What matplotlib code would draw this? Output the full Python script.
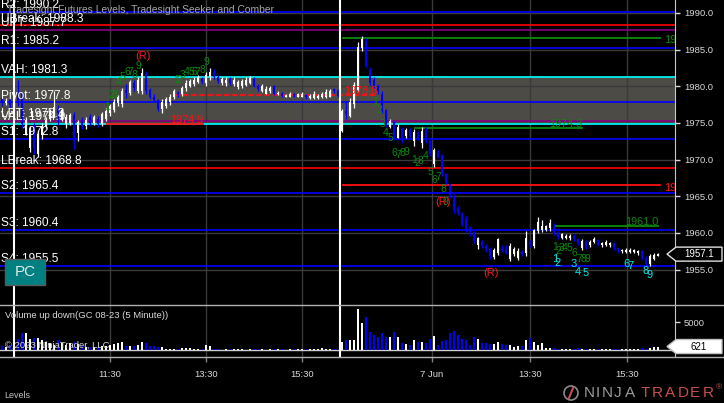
#!/usr/bin/env python3
"""
NinjaTrader style 5 minute GC chart with Tradesight levels, Seeker/Comber counts
and a volume up/down panel.
"""

import numpy as np
import matplotlib.pyplot as plt
from matplotlib.patches import Rectangle, Polygon, Ellipse
from matplotlib.lines import Line2D
from matplotlib.transforms import blended_transform_factory

plt.rcParams['font.family'] = ['Liberation Sans', 'DejaVu Sans']

# ---------------- price bars (5 minute) ----------------
opens = [1978.4, 1977.7, 1978.1, 1977.4, 1978.9, 1979.0, 1974.0, 1971.6, 1974.5, 1970.8,
         1973.3, 1974.6, 1975.6, 1976.2, 1976.9, 1975.6, 1974.9, 1975.0, 1976.1, 1973.6,
         1975.4, 1974.6, 1975.8, 1975.0, 1975.6, 1974.9, 1975.6, 1976.4, 1976.8, 1977.7,
         1977.6, 1979.5, 1979.1, 1980.4, 1979.4, 1979.3, 1981.7, 1979.5, 1978.6, 1978.1,
         1976.9, 1977.3, 1977.8, 1978.5, 1979.1, 1979.0, 1979.7, 1980.1, 1980.3, 1980.6,
         1981.0, 1980.4, 1981.2, 1981.9, 1981.3, 1980.5, 1980.4, 1981.0, 1980.3, 1979.9,
         1980.0, 1980.2, 1980.5, 1981.0, 1980.0, 1979.4, 1979.0, 1979.3, 1980.0, 1978.9,
         1979.0, 1978.6, 1978.6, 1978.9, 1978.6, 1978.6, 1978.8, 1978.4, 1978.4, 1978.4,
         1978.5, 1978.5, 1978.6, 1979.6, 1979.4,
         1973.9, 1976.6, 1975.9, 1977.6, 1979.5, 1985.2, 1986.2, 1982.2, 1980.9, 1980.1,
         1979.0, 1976.7, 1974.5, 1975.1, 1973.0, 1974.3, 1973.2, 1974.0, 1972.5, 1973.6,
         1972.2, 1974.3, 1972.6, 1969.4, 1971.0, 1970.6, 1968.0, 1966.6, 1965.0, 1963.3,
         1962.6, 1962.0, 1960.6, 1960.1, 1958.3, 1958.9, 1958.2, 1957.9, 1956.7, 1957.3,
         1958.0, 1958.0, 1956.5, 1957.1, 1956.6, 1957.4, 1957.2, 1958.8, 1958.2, 1960.2,
         1960.4, 1960.4, 1960.6, 1961.0, 1959.9, 1959.3, 1959.3, 1959.3, 1959.6, 1959.1,
         1957.9, 1958.9, 1958.3, 1958.7, 1959.0, 1958.3, 1958.4, 1958.3, 1958.6, 1957.9,
         1957.5, 1957.4, 1957.4, 1957.4, 1957.2, 1957.5, 1956.6, 1955.8, 1956.5, 1956.9]
highs = [1978.7, 1978.4, 1978.3, 1978.5, 1980.9, 1979.2, 1975.8, 1974.6, 1975.0, 1974.0,
         1975.0, 1975.8, 1976.9, 1979.4, 1977.5, 1977.1, 1976.2, 1976.4, 1976.5, 1975.4,
         1975.8, 1975.8, 1976.2, 1976.1, 1975.9, 1976.5, 1977.0, 1977.6, 1978.2, 1978.8,
         1979.7, 1980.3, 1980.9, 1980.8, 1981.2, 1982.5, 1982.1, 1979.8, 1978.9, 1978.3,
         1978.2, 1978.5, 1978.9, 1979.6, 1979.4, 1980.1, 1980.8, 1981.0, 1981.2, 1981.5,
         1981.3, 1981.9, 1982.5, 1982.3, 1981.6, 1981.3, 1981.2, 1981.2, 1981.3, 1980.9,
         1981.0, 1981.3, 1981.4, 1981.2, 1980.3, 1980.3, 1980.1, 1980.1, 1980.2, 1979.3,
         1979.2, 1979.0, 1979.2, 1979.1, 1979.1, 1979.2, 1979.0, 1978.9, 1979.4, 1978.9,
         1979.2, 1979.6, 1979.6, 1979.7, 1979.6,
         1976.9, 1978.0, 1978.4, 1980.6, 1986.0, 1986.8, 1986.6, 1982.6, 1981.2, 1980.3,
         1979.3, 1976.9, 1975.5, 1975.3, 1974.8, 1974.5, 1974.3, 1974.3, 1974.2, 1973.9,
         1974.5, 1974.5, 1972.7, 1971.6, 1971.3, 1970.8, 1968.2, 1966.8, 1965.3, 1963.6,
         1962.8, 1962.3, 1960.9, 1960.3, 1959.5, 1959.0, 1958.5, 1958.1, 1958.0, 1959.3,
         1958.3, 1958.3, 1958.6, 1958.1, 1958.0, 1957.6, 1960.2, 1959.0, 1960.5, 1962.2,
         1961.7, 1961.1, 1961.9, 1961.3, 1960.2, 1960.0, 1959.8, 1959.8, 1959.8, 1959.3,
         1959.2, 1959.0, 1959.0, 1959.4, 1959.2, 1958.8, 1959.0, 1958.8, 1958.8, 1958.0,
         1957.8, 1958.0, 1957.9, 1957.8, 1957.7, 1957.6, 1956.8, 1957.1, 1957.3, 1957.2]
lows = [1977.3, 1977.4, 1977.0, 1977.1, 1977.3, 1974.3, 1973.3, 1971.0, 1970.8, 1970.3,
        1972.8, 1974.3, 1975.2, 1975.8, 1974.7, 1975.2, 1974.3, 1974.7, 1971.5, 1972.6,
        1974.2, 1974.2, 1974.6, 1974.7, 1974.4, 1974.6, 1975.2, 1976.0, 1976.5, 1977.3,
        1977.2, 1978.4, 1978.8, 1979.4, 1979.1, 1979.0, 1979.0, 1978.2, 1977.8, 1976.6,
        1976.3, 1977.0, 1977.5, 1978.2, 1978.6, 1978.7, 1979.3, 1979.9, 1980.0, 1980.4,
        1980.3, 1980.0, 1980.9, 1981.0, 1980.5, 1980.2, 1980.1, 1980.2, 1980.0, 1979.6,
        1979.7, 1980.0, 1980.3, 1979.9, 1979.4, 1979.2, 1978.9, 1979.1, 1978.8, 1978.8,
        1978.5, 1978.5, 1978.5, 1978.5, 1978.5, 1978.5, 1978.3, 1978.3, 1978.3, 1978.3,
        1978.4, 1978.4, 1978.5, 1979.1, 1978.5,
        1973.8, 1975.6, 1975.8, 1977.1, 1979.2, 1984.8, 1982.6, 1980.2, 1979.8, 1978.9,
        1976.4, 1974.4, 1974.3, 1972.7, 1972.9, 1972.2, 1972.9, 1972.9, 1971.9, 1972.7,
        1971.6, 1972.3, 1970.5, 1969.0, 1970.2, 1967.8, 1966.6, 1964.8, 1962.7, 1962.4,
        1961.0, 1960.1, 1959.6, 1958.6, 1957.8, 1957.9, 1957.4, 1956.5, 1956.4, 1957.0,
        1957.4, 1957.1, 1956.2, 1956.8, 1956.3, 1956.9, 1956.9, 1958.1, 1958.0, 1960.0,
        1960.1, 1960.2, 1960.3, 1959.7, 1959.2, 1959.2, 1959.1, 1959.0, 1958.9, 1958.3,
        1957.7, 1957.8, 1958.1, 1958.6, 1958.2, 1958.1, 1958.2, 1958.1, 1957.7, 1957.3,
        1957.3, 1957.2, 1957.2, 1957.2, 1957.0, 1956.3, 1955.5, 1955.5, 1956.3, 1956.8]
closes = [1977.7, 1978.0, 1977.4, 1978.0, 1977.7, 1974.8, 1975.4, 1974.3, 1971.6, 1973.5,
          1974.6, 1975.4, 1976.6, 1977.2, 1976.3, 1976.8, 1975.8, 1976.1, 1972.9, 1975.1,
          1974.6, 1975.4, 1975.0, 1975.8, 1974.8, 1976.2, 1976.6, 1977.3, 1977.9, 1978.5,
          1979.3, 1979.1, 1980.6, 1979.7, 1980.9, 1981.8, 1979.3, 1978.6, 1978.1, 1976.9,
          1977.9, 1978.2, 1978.6, 1979.3, 1978.8, 1979.8, 1980.4, 1980.7, 1980.9, 1981.2,
          1980.6, 1981.6, 1982.0, 1981.2, 1980.7, 1981.0, 1980.9, 1980.5, 1980.9, 1980.6,
          1980.7, 1980.9, 1981.1, 1980.1, 1979.6, 1980.0, 1979.6, 1979.8, 1979.0, 1979.1,
          1978.7, 1978.8, 1978.9, 1978.6, 1978.9, 1978.9, 1978.5, 1978.7, 1978.9, 1978.7,
          1978.9, 1979.2, 1979.3, 1979.3, 1978.7,
          1976.6, 1976.2, 1977.9, 1980.2, 1985.4, 1986.4, 1982.8, 1980.5, 1980.1, 1979.3,
          1976.7, 1974.7, 1975.3, 1972.8, 1974.4, 1972.5, 1974.0, 1973.2, 1973.8, 1973.0,
          1973.9, 1972.6, 1970.8, 1971.3, 1970.4, 1968.3, 1966.8, 1965.1, 1963.1, 1962.7,
          1961.1, 1960.4, 1959.8, 1958.9, 1959.3, 1958.2, 1957.7, 1956.9, 1957.6, 1959.2,
          1957.6, 1957.3, 1958.2, 1957.8, 1957.5, 1957.1, 1959.3, 1958.3, 1960.4, 1961.5,
          1961.0, 1960.9, 1961.3, 1959.9, 1959.4, 1959.8, 1959.6, 1959.6, 1959.1, 1958.5,
          1958.9, 1958.0, 1958.8, 1959.1, 1958.4, 1958.6, 1958.7, 1958.6, 1957.9, 1957.5,
          1957.7, 1957.7, 1957.7, 1957.6, 1957.5, 1956.6, 1955.8, 1956.9, 1957.0, 1957.1]
volumes = [800, 600, 900, 1500, 2000, 3000, 3100, 1900, 2100, 2100,
           1800, 1500, 1200, 900, 1800, 1200, 900, 1200, 1500, 1000,
           900, 600, 480, 600, 600, 700, 700, 900, 1070, 1200,
           1500, 700, 700, 700, 900, 1500, 1200, 700, 700, 600,
           600, 240, 240, 240, 120, 360, 300, 360, 240, 120,
           240, 900, 700, 100, 120, 80, 100, 150, 90, 100,
           120, 80, 100, 130, 90, 100, 80, 120, 100, 90,
           110, 80, 100, 120, 90, 100, 130, 90, 150, 100,
           300, 150, 150, 100, 200,
           1370, 1800, 1800, 1800, 7400, 4750, 5950, 3270, 2680, 2380,
           2980, 2380, 2380, 3270, 2380, 1200, 1000, 900, 1800, 1370,
           1500, 1300, 1900, 2500, 900, 1600, 1800, 3100, 3450, 2700,
           1900, 1800, 900, 2400, 1900, 1200, 1300, 1100, 1100, 1500,
           1000, 900, 900, 600, 700, 700, 1800, 2200, 1500, 900,
           1200, 400, 300, 300, 250, 200, 200, 150, 250, 300,
           200, 250, 150, 200, 150, 200, 150, 200, 150, 200,
           250, 150, 200, 150, 200, 300, 250, 400, 600, 621]

# time axis (bar index of each label)
tick_pos = [27, 51, 75, 107.5, 132, 156.25]
tick_labels = ['11:30', '13:30', '15:30', '7 Jun', '13:30', '15:30']
session_breaks = [3, 84.45]

# ---------------- Tradesight levels ----------------
level_names = ['R2', 'UBreak', 'UPT', 'R1', 'VAH', 'Pivot', 'LPT', 'VAL',
               'S1', 'LBreak', 'S2', 'S3', 'S4']
level_values = [1990.2, 1988.3, 1987.7, 1985.2, 1981.3, 1977.8, 1975.3, 1974.9,
                1972.8, 1968.8, 1965.4, 1960.4, 1955.5]
level_colors = ['#0000ff', '#ff0000', '#800080', '#0000ff', '#00ffff', '#0000ff', '#800080',
                '#00ffff', '#0000ff', '#ff0000', '#0000ff', '#0000ff', '#0000ff']
value_area = (1974.9, 1981.3)

# short indicator lines (start bar, end bar, price)
seg_start = [26.25, 43.25, 85.25, 85.25, 103.25, 138.25]
seg_end = [50.25, 94.0, 164.5, 164.5, 145.0, 164.0]
seg_value = [1974.9, 1978.8, 1986.6, 1966.5, 1974.3, 1961.0]
seg_colors = ['#ff1010', '#ff1010', '#0a8a0a', '#ff1010', '#0a8a0a', '#0a8a0a']
seg_styles = ['-', '--', '-', '-', '-', '-']

# seeker counts (green), comber counts (cyan), reversal marks
count_x = [26.25, 27.25, 28.25, 29.25, 30, 31.25, 32, 33, 34,
           43.5, 44.25, 45.25, 46.25, 47.25, 48, 48.75, 50, 51,
           93.25, 94.25, 95.25, 96, 97, 98, 99, 100, 101,
           103, 103.75, 104.75, 106, 107, 108, 109, 110.25, 110.75,
           138.25, 139, 140, 140.75, 141.75, 143, 144.25, 145.25, 146.25]
count_y = [1977.2, 1978.8, 1978.8, 1980.6, 1981.3, 1982.0, 1982.0, 1981.5, 1982.8,
           1980.9, 1980.9, 1981.5, 1982.0, 1981.9, 1981.9, 1981.9, 1982.2, 1983.3,
           1977.9, 1976.8, 1974.9, 1973.6, 1972.9, 1970.9, 1970.6, 1970.9, 1971.0,
           1970.0, 1969.5, 1969.8, 1970.5, 1968.3, 1967.2, 1967.6, 1966.0, 1964.2,
           1958.1, 1957.5, 1958.0, 1958.0, 1958.0, 1957.3, 1956.4, 1956.4, 1956.4]
comber_x = [138.25, 139, 143, 144, 146, 156, 157, 161, 162]
comber_y = [1956.4, 1955.9, 1955.8, 1954.7, 1954.5, 1955.8, 1955.5, 1954.8, 1954.3]
rev_x = [35.25, 110.25, 122.25]
rev_y = [1984.1, 1964.2, 1954.5]

W, H = 724, 403
GRID = '#3a3a3a'
TXT = '#d8d8d8'


def fx(x):
    return x / W


def fy(y):
    return 1 - y / H


def draw_logo(fig):
    """NinjaTrader logo: ring icon plus spaced letters."""
    fig.add_artist(Ellipse((fx(571), fy(393)), 14 / W, 14 / H, transform=fig.transFigure,
                           fc='none', ec='#8a8a8a', lw=1.2))
    fig.add_artist(Line2D([fx(569), fx(573)], [fy(398), fy(388)], color='#c0504d', lw=1.5))
    letters = 'NINJATRADER'
    centers = [589, 598, 607, 618, 630, 645, 657, 670, 683, 695, 708]
    for k, (ch, cx) in enumerate(zip(letters, centers)):
        col = '#9a9a9a' if k < 5 else '#c8504b'
        fig.text(fx(cx), fy(393), ch, color=col, fontsize=11, ha='center', va='center')
    fig.text(fx(716), fy(388), '\u00ae', color='#c8504b', fontsize=6, ha='left', va='center')


fig = plt.figure(figsize=(W / 100, H / 100), dpi=100, facecolor='black')
ax = fig.add_axes([0, fy(305), fx(675), 305 / H])
axv = fig.add_axes([0, fy(357), fx(675), 52 / H], sharex=ax)

opens, highs, lows, closes = map(np.array, (opens, highs, lows, closes))
volumes = np.array(volumes)
idx = np.arange(len(closes))
up = closes >= opens
bar_colors = np.where(up, '#ffffff', '#0000ff')

for a in (ax, axv):
    a.set_facecolor('black')
    for s in ('top', 'left', 'bottom'):
        a.spines[s].set_visible(False)
    a.spines['right'].set_color('#c8c8c8')
    a.set_xlim(-0.5, 168.25)
    for t in tick_pos:
        a.axvline(t, color=GRID, lw=1, zorder=1)
    for b in session_breaks:
        a.axvline(b, color='white', lw=1.5, zorder=4)

# ---------------- price panel ----------------
ax.set_ylim(1950.16, 1991.77)
ax.axhspan(value_area[0], value_area[1], color='#4d4b46', lw=0, zorder=0.5)
price_ticks = np.arange(1955, 1991, 5)
for p in price_ticks:
    ax.axhline(p, color=GRID, lw=1, zorder=1)

for name, val, col in zip(level_names, level_values, level_colors):
    ax.axhline(val, color=col, lw=1.2, zorder=2)
    ax.text(-0.3, val + 0.12, f'{name}: {val:.1f}', color='white', fontsize=8.6,
            ha='left', va='bottom', zorder=8)

for s, e, v, c, ls in zip(seg_start, seg_end, seg_value, seg_colors, seg_styles):
    ax.plot([s, e], [v, v], color=c, lw=1.3, ls=ls, zorder=2,
            dashes=(3, 1.5) if ls == '--' else (None, None))
    if e > 160 and s < 90:
        ax.text(165.4, v - 0.35, f'{v:.1f}', color=c, fontsize=8, ha='left',
                va='center', zorder=8, clip_on=True)
    else:
        ax.text(e, v - 0.15, f'{v:.1f}', color=c, fontsize=7.8, ha='right',
                va='bottom', zorder=8)

# candles
ax.vlines(idx, lows, highs, colors=bar_colors, lw=0.9, zorder=3)
body_h = np.maximum(np.abs(closes - opens), 0.12)
ax.bar(idx, body_h, bottom=np.minimum(opens, closes), width=0.6,
       color=bar_colors, lw=0, zorder=3)

for i, (x, y) in enumerate(zip(count_x, count_y)):
    ax.text(x, y, str(i % 9 + 1), color='#0a8a0a', fontsize=7.5, ha='center',
            va='center', zorder=7)
for i, (x, y) in enumerate(zip(comber_x, comber_y)):
    ax.text(x, y, str(i + 1), color='#00e8e8', fontsize=8, ha='center',
            va='center', zorder=7)
for x, y in zip(rev_x, rev_y):
    ax.text(x, y, '(R)', color='#ff1a1a', fontsize=8, ha='center', va='center', zorder=7)

ax.yaxis.tick_right()
ax.set_yticks(price_ticks)
ax.set_yticklabels([f'{p:.1f}' for p in price_ticks])
ax.tick_params(axis='y', colors=TXT, length=3.6, width=1, pad=3, labelsize=6.8)
ax.tick_params(axis='x', bottom=False, labelbottom=False)

# current price marker
tr = blended_transform_factory(fig.transFigure, ax.transData)
last = closes[-1]
hh = 7 / 7.33
ax.add_patch(Polygon([(fx(667), last), (fx(676), last + hh), (fx(722), last + hh),
                      (fx(722), last - hh), (fx(676), last - hh)], closed=True,
                     transform=tr, fc='black', ec='#e0e0e0', lw=1, clip_on=False, zorder=9))
ax.text(fx(699), last, f'{last:.1f}', transform=tr, color='white', fontsize=7,
        ha='center', va='center', zorder=10)

# ---------------- volume panel ----------------
axv.set_ylim(-1250, 8036)
axv.bar(idx, volumes, width=0.6, color=bar_colors, lw=0, zorder=3)
axv.axhline(0, color='#d0d0d0', lw=1, zorder=2)
axv.yaxis.tick_right()
axv.set_yticks([5000])
axv.set_yticklabels(['5000'])
axv.tick_params(axis='y', colors=TXT, length=3.6, width=1, pad=3, labelsize=6.8)
axv.set_xticks(tick_pos)
axv.set_xticklabels(tick_labels)
axv.tick_params(axis='x', colors=TXT, length=3.6, width=1, pad=6, labelsize=6.8)
axv.tick_params(axis='x', color='#808080')

trv = blended_transform_factory(fig.transFigure, axv.transData)
lv = volumes[-1]
vh = 7 * 178.6
axv.add_patch(Polygon([(fx(667), lv), (fx(676), lv + vh), (fx(722), lv + vh),
                       (fx(722), lv - vh), (fx(676), lv - vh)], closed=True,
                      transform=trv, fc='white', ec='#c0c0c0', lw=1, clip_on=False, zorder=9))
axv.text(fx(699), lv, f'{lv}', transform=trv, color='black', fontsize=7,
         ha='center', va='center', zorder=10)

# ---------------- frame, titles, widgets ----------------
for y in (305, 357):
    fig.add_artist(Line2D([0, 1], [fy(y), fy(y)], color='#b0b0b0', lw=1))

fig.text(fx(7), fy(10), 'Tradesight Futures Levels, Tradesight Seeker and Comber',
         color='#b8b8b8', fontsize=7.4, ha='left', va='center', alpha=0.9)
fig.text(fx(5), fy(316), 'Volume up down(GC 08-23 (5 Minute))', color=TXT,
         fontsize=6.8, ha='left', va='center')
fig.text(fx(5), fy(345), '\u00a9 2023 NinjaTrader, LLC', color=TXT,
         fontsize=6.8, ha='left', va='center')
fig.text(fx(4), fy(396), 'Levels', color='#c0c0c0', fontsize=6.5, ha='left', va='center')

fig.add_artist(Rectangle((fx(5), fy(285)), 40 / W, 26 / H, transform=fig.transFigure,
                         fc='#008080', ec='#5a5a5a', lw=1))
fig.text(fx(25), fy(272), 'PC', color='#e8e8e8', fontsize=11, ha='center', va='center')

draw_logo(fig)

plt.savefig('out.png', dpi=100, facecolor='black')
